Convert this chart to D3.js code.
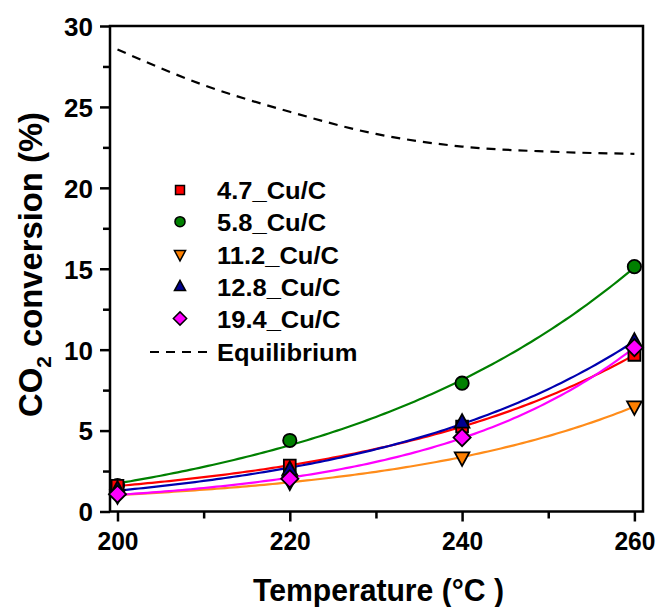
<!DOCTYPE html>
<html>
<head>
<meta charset="utf-8">
<script src="https://cdn.jsdelivr.net/npm/d3@7"></script>
<style>
  body { margin: 0; background: #fff; }
  text { font-family: Arial, "Liberation Sans", sans-serif; font-weight: bold; fill: #000; }
</style>
</head>
<body>
<div id="chart"></div>
<script>
// temperatures (°C)
var temps = [200, 220, 240, 260];

// CO2 conversion (%) per catalyst
var cu47 = [1.59, 2.84, 5.25, 9.68];
var cu58 = [1.60, 4.39, 7.93, 15.13];
var cu112 = [1.00, 1.85, 3.34, 6.49];
var cu128 = [1.35, 2.58, 5.50, 10.50];
var cu194 = [1.07, 2.02, 4.57, 10.13];

// equilibrium conversion
var eqTemps = [200, 210, 220, 230, 240, 250, 260];
var eqValues = [28.55, 26.35, 24.7, 23.33, 22.55, 22.24, 22.1];

var names = ["4.7_Cu/C", "5.8_Cu/C", "11.2_Cu/C", "12.8_Cu/C", "19.4_Cu/C"];
var xTicks = [200, 220, 240, 260];
var yTicks = [0, 5, 10, 15, 20, 25, 30];

var series = [
  {name: names[1], values: cu58, color: "#008000", line: "#008000", shape: d3.symbolCircle},
  {name: names[2], values: cu112, color: "#ff8000", line: "#ff8c1a", shape: "down"},
  {name: names[0], values: cu47, color: "#ff0000", line: "#ff0000", shape: d3.symbolSquare},
  {name: names[3], values: cu128, color: "#000090", line: "#0000b0", shape: "up"},
  {name: names[4], values: cu194, color: "#ff00ff", line: "#ff00ff", shape: "diamond"}
];
var legendOrder = [2, 0, 1, 3, 4];

var W = 658, H = 607;
var svg = d3.select("#chart").append("svg")
  .attr("width", W)
  .attr("height", H);

var x = d3.scaleLinear().domain([199.13, 261.0]).range([110, 643]);
var y = d3.scaleLinear().domain([0, 30]).range([511.5, 26]);

// exponential growth fit y = y0 + A*exp(b*(t-200)), least squares
function expFit(xs, ys) {
  var best = null;
  for (var b = 0.001; b < 0.2; b += 0.0005) {
    var e = xs.map(function(t) { return Math.exp(b * (t - 200)); });
    var n = xs.length, se = d3.sum(e), sy = d3.sum(ys);
    var see = d3.sum(e, function(v) { return v * v; });
    var sey = d3.sum(e, function(v, i) { return v * ys[i]; });
    var det = n * see - se * se;
    var A = (n * sey - se * sy) / det;
    var y0 = (sy - A * se) / n;
    var sse = d3.sum(xs, function(t, i) { var r = y0 + A * e[i] - ys[i]; return r * r; });
    if (!best || sse < best.sse) best = {b: b, A: A, y0: y0, sse: sse};
  }
  return function(t) { return best.y0 + best.A * Math.exp(best.b * (t - 200)); };
}

// axes
var xAxis = d3.axisBottom(x).tickValues(xTicks).tickSize(10).tickFormat(d3.format("d"));
var xMinor = d3.axisBottom(x).tickValues([210, 230, 250]).tickSize(7).tickFormat("");
var yAxis = d3.axisLeft(y).tickValues(yTicks).tickSize(10);
var yMinor = d3.axisLeft(y).tickValues([2.5, 7.5, 12.5, 17.5, 22.5, 27.5]).tickSize(7).tickFormat("");

function styleAxis(g) {
  g.select(".domain").remove();
  g.selectAll("line").attr("stroke", "#000").attr("stroke-width", 2.5);
  g.selectAll("text").style("font-size", "26px").style("font-family", "Arial, 'Liberation Sans', sans-serif").style("font-weight", "bold");
}

svg.append("g").attr("transform", "translate(0,511.5)").call(xAxis).call(styleAxis)
  .selectAll("text").attr("y", 38).attr("dy", 0)
  .attr("textLength", 41).attr("lengthAdjust", "spacingAndGlyphs");
svg.append("g").attr("transform", "translate(0,511.5)").call(xMinor).call(styleAxis);
svg.append("g").attr("transform", "translate(110,0)").call(yAxis).call(styleAxis)
  .selectAll("text").attr("x", -17).attr("dy", "0.36em");
svg.append("g").attr("transform", "translate(110,0)").call(yMinor).call(styleAxis);

// frame
svg.append("rect")
  .attr("x", 110).attr("y", 26)
  .attr("width", 533).attr("height", 485.5)
  .attr("fill", "none").attr("stroke", "#000").attr("stroke-width", 2.5);

// equilibrium
svg.append("path")
  .datum(eqTemps.map(function(t, i) { return [t, eqValues[i]]; }))
  .attr("fill", "none").attr("stroke", "#000").attr("stroke-width", 2.2)
  .attr("stroke-dasharray", "9,7")
  .attr("d", d3.line().x(function(d) { return x(d[0]); }).y(function(d) { return y(d[1]); }).curve(d3.curveMonotoneX));

// fitted curves
series.forEach(function(s) {
  var f = expFit(temps, s.values);
  var pts = d3.range(200, 260.01, 0.5).map(function(t) { return [t, f(t)]; });
  svg.append("path").datum(pts)
    .attr("fill", "none").attr("stroke", s.line).attr("stroke-width", 2.2)
    .attr("d", d3.line().x(function(d) { return x(d[0]); }).y(function(d) { return y(d[1]); }));
});

function marker(g, shape, size) {
  var r = Math.sqrt(size) * 0.62, pts;
  if (shape === "up") pts = [[0, -r * 1.15], [r, r * 0.7], [-r, r * 0.7]];
  else if (shape === "down") pts = [[0, r * 1.15], [r, -r * 0.7], [-r, -r * 0.7]];
  else if (shape === "diamond") { r = Math.sqrt(size) * 0.7; pts = [[0, -r], [r, 0], [0, r], [-r, 0]]; }
  if (pts) return g.append("path").attr("d", "M" + pts.join("L") + "Z");
  return g.append("path").attr("d", d3.symbol().type(shape).size(size)());
}

// markers
series.forEach(function(s) {
  temps.forEach(function(t, i) {
    var g = svg.append("g").attr("transform", "translate(" + x(t) + "," + y(s.values[i]) + ")");
    var sz = s.shape === "diamond" ? 150 : 140;
    marker(g, s.shape, sz).attr("fill", s.color).attr("stroke", "#000").attr("stroke-width", 1.8);
  });
});

// legend
var legendY = [190, 221.7, 254.5, 286.7, 318.5, 352];
var legend = svg.append("g");
legendOrder.forEach(function(k, i) {
  var s = series[k];
  var ly = legendY[i];
  var g = legend.append("g").attr("transform", "translate(180," + ly + ")");
  var sz = s.shape === "diamond" ? 90 : 80;
  marker(g, s.shape, sz).attr("fill", s.color).attr("stroke", "#000").attr("stroke-width", 1.5);
  legend.append("text").attr("transform", "translate(217," + (ly + 9) + ") scale(1.11,1)")
    .style("font-size", "23px").text(s.name);
});
var eqY = legendY[5];
legend.append("line").attr("x1", 150).attr("x2", 211).attr("y1", eqY).attr("y2", eqY)
  .attr("stroke", "#000").attr("stroke-width", 2.2).attr("stroke-dasharray", "9,7");
legend.append("text").attr("transform", "translate(217," + (eqY + 9) + ") scale(1.11,1)")
  .style("font-size", "23px").text("Equilibrium");

// axis titles
svg.append("text")
  .attr("x", 253).attr("y", 601)
  .attr("textLength", 251).attr("lengthAdjust", "spacingAndGlyphs")
  .style("font-size", "32px")
  .text("Temperature (°C )");

var yl = svg.append("text")
  .attr("transform", "translate(42,417) rotate(-90)")
  .attr("textLength", 305).attr("lengthAdjust", "spacingAndGlyphs")
  .style("font-size", "33px");
yl.append("tspan").text("CO");
yl.append("tspan").attr("dy", 9).style("font-size", "21px").text("2");
yl.append("tspan").attr("dy", -9).text(" conversion (%)");
</script>
</body>
</html>
